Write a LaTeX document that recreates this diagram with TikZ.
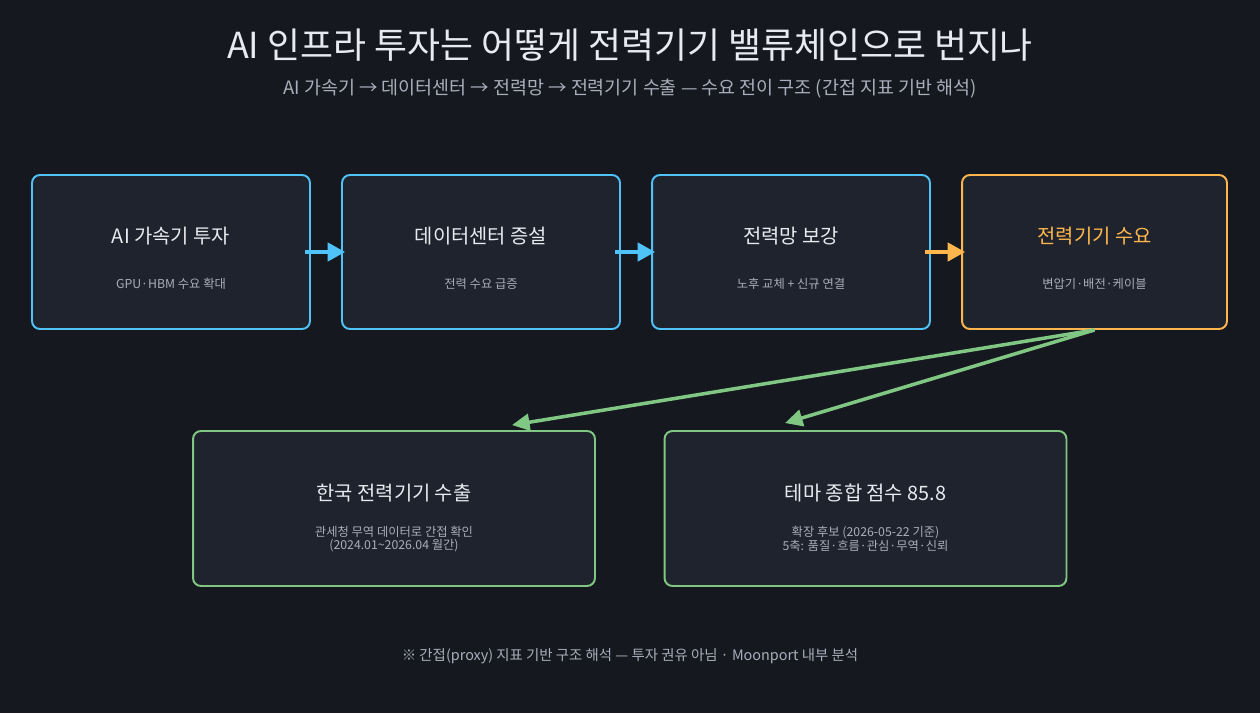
\documentclass[tikz,border=0pt]{standalone}
\usepackage{fontspec}
\setmainfont{Noto Sans CJK KR}
\definecolor{bgdark}{RGB}{21,24,31}
\definecolor{boxfill}{RGB}{31,35,46}
\definecolor{flowblue}{RGB}{79,195,247}
\definecolor{flowamber}{RGB}{255,183,77}
\definecolor{flowgreen}{RGB}{129,199,132}
\definecolor{textmain}{RGB}{232,234,240}
\definecolor{textsub}{RGB}{168,174,186}
\usetikzlibrary{arrows.meta,positioning,calc}

\begin{document}
\begin{tikzpicture}[x=0.02cm, y=-0.02cm,
  stage/.style={draw=#1, fill=boxfill, rounded corners=4.5pt, line width=1.1pt, minimum width=5.56cm, minimum height=3.08cm},
  result/.style={draw=flowgreen, fill=boxfill, rounded corners=4.5pt, line width=1.1pt, minimum width=8.04cm, minimum height=3.1cm},
  headtext/.style={text=textmain, font=\fontsize{11.3}{13}\selectfont},
  subtext/.style={text=textsub, font=\fontsize{7}{7.6}\selectfont, align=center},
  flow/.style={draw=#1, line width=2pt, -{Triangle[length=10pt, width=10.5pt]}, shorten <=-3.4pt, shorten >=-2.3pt},
  spread/.style={draw=flowgreen, line width=2pt, -{Triangle[length=10pt, width=9.5pt]}}]
  % background and frame
  \fill[bgdark] (0,0) rectangle (1260,713);
  \useasboundingbox (0,0) rectangle (1260,713);

  % title
  \node[text=textmain, font=\fontsize{20.4}{24}\selectfont] (title) at (630,45) {AI 인프라 투자는 어떻게 전력기기 밸류체인으로 번지나};
  \node[text=textsub, font=\fontsize{10.5}{12}\selectfont] (subtitle) at (630,89) {AI 가속기 → 데이터센터 → 전력망 → 전력기기 수출 — 수요 전이 구조 (간접 지표 기반 해석)};

  % top row
  \node[stage=flowblue] (accel) at (171,252) {};
  \node[stage=flowblue] (dc) at (481,252) {};
  \node[stage=flowblue] (grid) at (791,252) {};
  \node[stage=flowamber, minimum width=5.3cm] (equip) at (1094.5,252) {};

  \node[headtext] (accelhead) at (171,236) {AI 가속기 투자};
  \node[subtext] (accelsub) at (171,284) {GPU·HBM 수요 확대};
  \node[headtext] (dchead) at (481,236) {데이터센터 증설};
  \node[subtext] (dcsub) at (481,284) {전력 수요 급증};
  \node[headtext] (gridhead) at (791,236) {전력망 보강};
  \node[subtext] (gridsub) at (791,284) {노후 교체 + 신규 연결};
  \node[headtext, text=flowamber] (equiphead) at (1094.5,236) {전력기기 수요};
  \node[subtext] (equipsub) at (1094.5,284) {변압기·배전·케이블};

  % bottom row
  \node[result] (export) at (394,508.5) {};
  \node[result] (score) at (865.5,508.5) {};

  \node[headtext] (exporthead) at (394,493) {한국 전력기기 수출};
  \node[subtext] (exportsub) at (394,539) {관세청 무역 데이터로 간접 확인\\(2024.01\textasciitilde2026.04 월간)};
  \node[headtext] (scorehead) at (865.5,493) {테마 종합 점수 85.8};
  \node[subtext] (scoresub) at (865.5,539) {확장 후보 (2026-05-22 기준)\\5축: 품질·흐름·관심·무역·신뢰};

  % connectors
  \draw[flow=flowblue] (accel.east) -- (dc.west);
  \draw[flow=flowblue] (dc.east) -- (grid.west);
  \draw[flow=flowamber] (grid.east) -- (equip.west);
  \draw[spread] (equip.south) -- ($(export.north)+(118,-5)$);
  \draw[spread] (equip.south) -- ($(score.north)+(-80.5,-7)$);

  % footer
  \node[text=textsub, font=\fontsize{8.2}{10}\selectfont] (footer) at (630,656) {※ 간접(proxy) 지표 기반 구조 해석 — 투자 권유 아님 · Moonport 내부 분석};
\end{tikzpicture}
\end{document}
